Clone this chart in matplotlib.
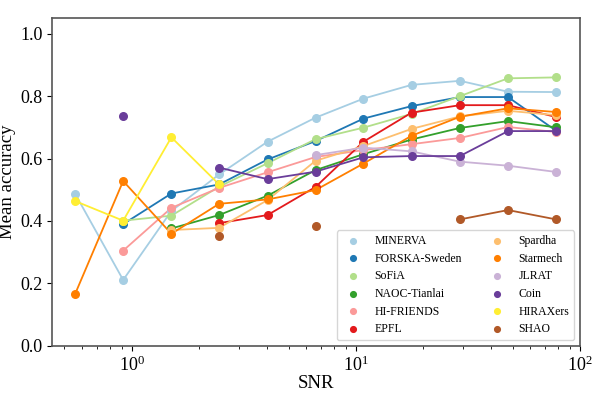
import numpy as np
import matplotlib
matplotlib.use("Agg")
import matplotlib.pyplot as plt

nan = np.nan

snr = [0.557, 0.914, 1.50, 2.45, 4.03, 6.60, 10.8, 17.7, 29.1, 47.7, 78.2]

teams = ['MINERVA', 'FORSKA-Sweden', 'SoFiA', 'NAOC-Tianlai', 'HI-FRIENDS', 'EPFL',
         'Spardha', 'Starmech', 'JLRAT', 'Coin', 'HIRAXers', 'SHAO']

colors = ['#a6cee3', '#1f78b4', '#b2df8a', '#33a02c', '#fb9a99', '#e31a1c',
          '#fdbf6f', '#ff7f00', '#cab2d6', '#6a3d9a', '#ffee33', '#b15928']

minerva = [0.488, 0.211, 0.432, 0.549, 0.654, 0.731, 0.792, 0.836, 0.849, 0.814, 0.813]
forska = [nan, 0.390, 0.488, 0.517, 0.597, 0.656, 0.728, 0.768, 0.797, 0.797, 0.689]
sofia = [nan, 0.401, 0.417, 0.510, 0.585, 0.662, 0.699, 0.743, 0.800, 0.857, 0.860]
naoc = [nan, nan, 0.376, 0.419, 0.481, 0.563, 0.614, 0.661, 0.698, 0.720, 0.700]
hifriends = [nan, 0.305, 0.442, 0.506, 0.556, 0.605, 0.627, 0.646, 0.666, 0.701, 0.685]
epfl = [nan, nan, nan, 0.393, 0.419, 0.509, 0.654, 0.747, 0.771, 0.771, 0.733]
spardha = [nan, nan, 0.371, 0.378, 0.467, 0.593, 0.640, 0.695, 0.735, 0.753, 0.739]
starmech = [0.165, 0.528, 0.359, 0.455, 0.469, 0.499, 0.584, 0.673, 0.734, 0.761, 0.749]
jlrat = [nan, nan, nan, nan, nan, 0.611, 0.635, 0.623, 0.590, 0.577, 0.557]
coin = [nan, 0.737, nan, 0.571, 0.534, 0.558, 0.604, 0.608, 0.608, 0.688, 0.688]
hiraxers = [0.464, 0.401, 0.668, 0.517, nan, nan, nan, nan, nan, nan, nan]
shao = [nan, nan, nan, 0.352, nan, 0.385, nan, nan, 0.405, 0.435, 0.405]

accuracy = [minerva, forska, sofia, naoc, hifriends, epfl,
            spardha, starmech, jlrat, coin, hiraxers, shao]

plt.rcParams['font.family'] = ['Liberation Serif', 'DejaVu Serif']
plt.rcParams['mathtext.fontset'] = 'stix'

fig = plt.figure(figsize=(5.98, 3.93), dpi=100)
ax = fig.add_axes([0.087, 0.12, 0.883, 0.834])

for name, col, acc in zip(teams, colors, accuracy):
    ax.plot(snr, acc, '-', color=col, lw=1.3, zorder=2)
    ax.scatter(snr, acc, s=30, color=col, label=name, zorder=3)

ax.set_xscale('log')
ax.set_xlim(0.44, 100)
ax.set_ylim(0, 1.05)
ax.set_yticks([0.0, 0.2, 0.4, 0.6, 0.8, 1.0])
ax.set_xlabel('SNR', fontsize=13.5, labelpad=0)
ax.set_ylabel('Mean accuracy', fontsize=13.5, labelpad=3)
ax.tick_params(labelsize=13)

for s in ax.spines.values():
    s.set_color('#555555')
    s.set_linewidth(1.2)

ax.legend(loc='lower right', ncol=2, fontsize=8.5, markerscale=0.75,
          labelspacing=0.48, columnspacing=2.0)

fig.savefig('out.png', dpi=100)
